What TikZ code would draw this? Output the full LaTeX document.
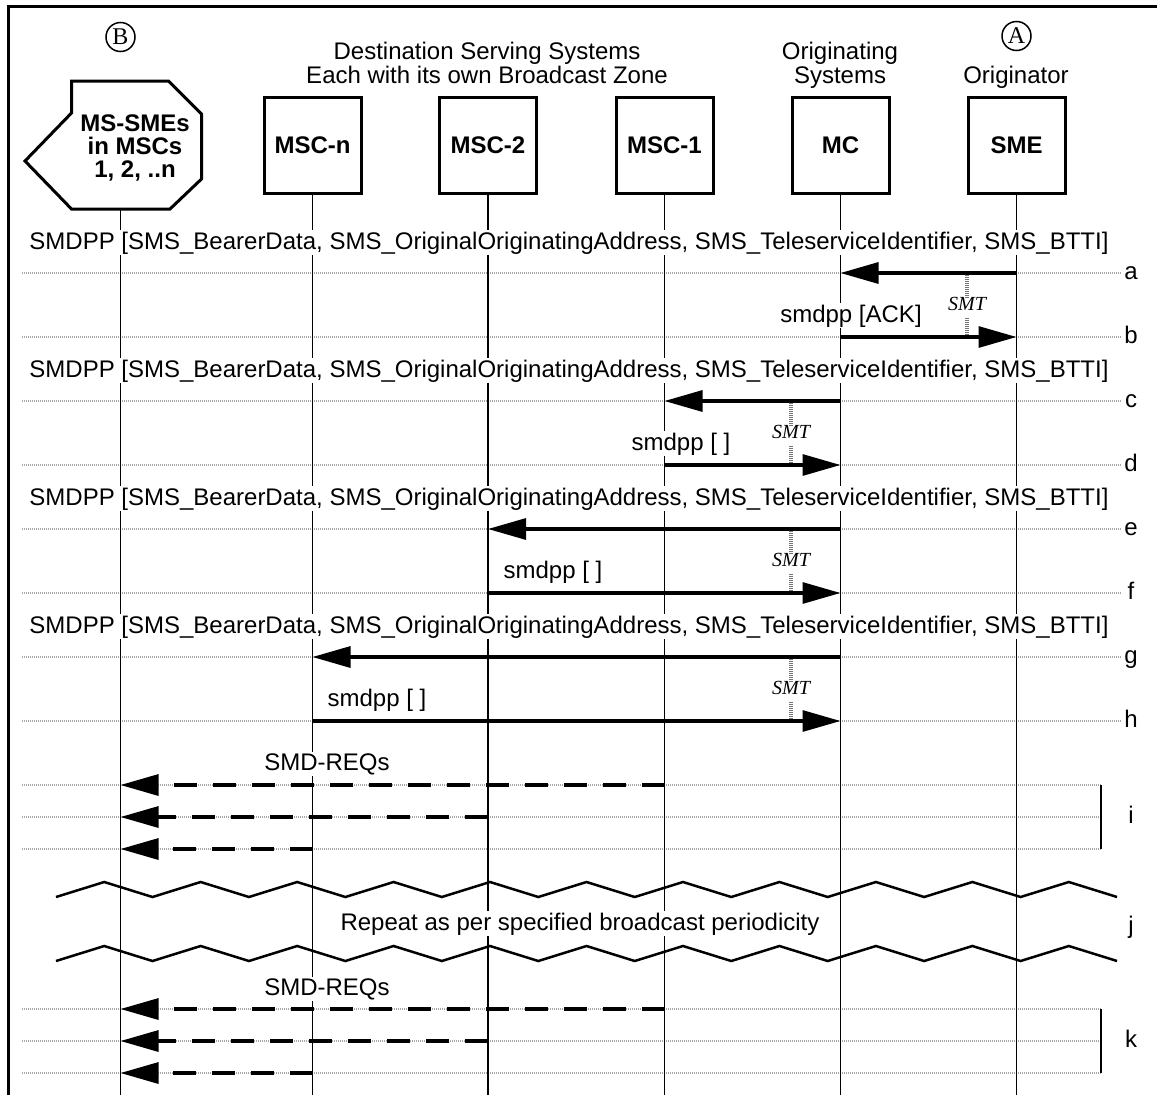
\documentclass[tikz,border=0pt]{standalone}
\usepackage{fontspec}
\setmainfont{Liberation Sans}
\newfontfamily\tms{Liberation Serif}
\usetikzlibrary{arrows.meta}
\begin{document}
\begin{tikzpicture}[x=1pt,y=-1pt,
  txt/.style={font=\fontsize{24}{27}\selectfont, fill=white, inner sep=1.5pt, anchor=base},
  hdr/.style={font=\fontsize{24}{27}\selectfont, inner sep=0pt, anchor=base},
  entity/.style={draw, line width=3pt, minimum width=97pt, minimum height=96pt, inner sep=0pt, fill=white, font=\fontsize{24}{27}\selectfont\bfseries},
  life/.style={line width=1.2pt},
  dotrow/.style={draw=black!35, line width=1.1pt, dash pattern=on 1pt off 1pt},
  msg/.style={line width=3.1pt, -{Triangle[length=38pt,width=21pt]}},
  dmsg/.style={msg, dash pattern=on 23pt off 16pt},
  smtlbl/.style={font=\tms\itshape\fontsize{20}{22}\selectfont, inner sep=0pt, anchor=base},
  smtline/.style={draw=black!55, line width=3.5pt, dash pattern=on 1pt off 1pt},
  rowlbl/.style={font=\fontsize{24}{27}\selectfont, inner sep=0pt, anchor=base},
  zig/.style={line width=2.5pt, line join=miter},
  circ/.style={draw, circle, line width=1.5pt, minimum size=29pt, inner sep=0pt, font=\tms\fontsize{24}{26}\selectfont},
  brace/.style={line width=2pt},
]
\useasboundingbox (0,0) rectangle (1157,1095);

% frame
\draw[line width=3pt] (8,1095) -- (8,6.5) -- (1157,6.5);

% row coordinates
\coordinate (ra) at (0,273);
\coordinate (rb) at (0,337);
\coordinate (rc) at (0,401);
\coordinate (rd) at (0,465);
\coordinate (re) at (0,529);
\coordinate (rf) at (0,593);
\coordinate (rg) at (0,657);
\coordinate (rh) at (0,721);
\coordinate (ri1) at (0,785);
\coordinate (ri2) at (0,817);
\coordinate (ri3) at (0,849);
\coordinate (rk1) at (0,1009);
\coordinate (rk2) at (0,1041);
\coordinate (rk3) at (0,1073);
\coordinate (bot) at (0,1095);
\coordinate (lft) at (22,0);
\coordinate (rgt) at (1121,0);
\coordinate (brk) at (1101,0);
\coordinate (s1) at (967,0);
\coordinate (s2) at (791,0);

% dotted rows
\foreach \r in {ra,rb,rc,rd,re,rf,rg,rh}
  \draw[dotrow] (lft |- \r) -- (rgt |- \r);
\foreach \r in {ri1,ri2,ri3,rk1,rk2,rk3}
  \draw[dotrow] (lft |- \r) -- (brk |- \r);

% header
\node[circ] (cB) at (120.5,37) {B};
\node[circ] (cA) at (1016.5,36) {A};
\node[hdr] (dest1) at (487,59) {Destination Serving Systems};
\node[hdr] (dest2) at (487,83) {Each with its own Broadcast Zone};
\node[hdr] (orig1) at (840,59) {Originating};
\node[hdr] (orig2) at (840,83) {Systems};
\node[hdr] (origr) at (1016,83) {Originator};

% entities
\draw[line width=3pt, line join=miter] (71.5,81) -- (168.5,81) -- (201.5,114) -- (201.5,179) -- (170,209) -- (71.5,209) -- (25,161) -- (71.5,113) -- cycle;
\node[align=center, inner sep=0pt, font=\fontsize{24}{23}\selectfont\bfseries] (mstext) at (135,148) {MS-SMEs\\in MSCs\\1, 2, ..n};
\coordinate (ms) at (120.5,209);
\node[entity] (mscn) at (312.5,145) {MSC-n};
\node[entity] (msc2) at (488,145) {MSC-2};
\node[entity] (msc1) at (664.5,145) {MSC-1};
\node[entity] (mc) at (840.5,145) {MC};
\node[entity] (sme) at (1016.5,145) {SME};

% lifelines
\draw[life] (ms) -- (ms |- bot);
\foreach \n in {mscn,msc2,msc1,mc,sme}
  \draw[life] (\n.south) -- (\n.south |- bot);

% message texts
\node[txt] (ta) at (569,249) {SMDPP [SMS\_BearerData, SMS\_OriginalOriginatingAddress, SMS\_TeleserviceIdentifier, SMS\_BTTI]};
\node[txt] (tc) at (569,377) {SMDPP [SMS\_BearerData, SMS\_OriginalOriginatingAddress, SMS\_TeleserviceIdentifier, SMS\_BTTI]};
\node[txt] (te) at (569,505) {SMDPP [SMS\_BearerData, SMS\_OriginalOriginatingAddress, SMS\_TeleserviceIdentifier, SMS\_BTTI]};
\node[txt] (tg) at (569,633) {SMDPP [SMS\_BearerData, SMS\_OriginalOriginatingAddress, SMS\_TeleserviceIdentifier, SMS\_BTTI]};
\node[txt] (tb) at (851,322) {smdpp [ACK]};
\node[txt] (td) at (681,450) {smdpp [ ]};
\node[txt] (tf) at (553,578) {smdpp [ ]};
\node[txt] (th) at (377,706) {smdpp [ ]};
\node[txt] (ti) at (327,770) {SMD-REQs};
\node[txt] (tk) at (327,995) {SMD-REQs};
\node[txt] (tj) at (580,930) {Repeat as per specified broadcast periodicity};

% SMT markers
\node[smtlbl] (smtab) at (967,310) {SMT};
\draw[smtline] (s1 |- ra) -- ([yshift=-2pt]smtab.north);
\draw[smtline] ([yshift=-8pt]smtab.south) -- (s1 |- rb);
\node[smtlbl] (smtcd) at (791,438) {SMT};
\draw[smtline] (s2 |- rc) -- ([yshift=-2pt]smtcd.north);
\draw[smtline] ([yshift=-8pt]smtcd.south) -- (s2 |- rd);
\node[smtlbl] (smtef) at (791,566) {SMT};
\draw[smtline] (s2 |- re) -- ([yshift=-2pt]smtef.north);
\draw[smtline] ([yshift=-8pt]smtef.south) -- (s2 |- rf);
\node[smtlbl] (smtgh) at (791,694) {SMT};
\draw[smtline] (s2 |- rg) -- ([yshift=-2pt]smtgh.north);
\draw[smtline] ([yshift=-8pt]smtgh.south) -- (s2 |- rh);

% messages
\draw[msg] (sme |- ra) -- (mc |- ra);
\draw[msg] (mc |- rb) -- (sme |- rb);
\draw[msg] (mc |- rc) -- (msc1 |- rc);
\draw[msg] (msc1 |- rd) -- (mc |- rd);
\draw[msg] (mc |- re) -- (msc2 |- re);
\draw[msg] (msc2 |- rf) -- (mc |- rf);
\draw[msg] (mc |- rg) -- (mscn |- rg);
\draw[msg] (mscn |- rh) -- (mc |- rh);
\draw[dmsg] (msc1 |- ri1) -- (ms |- ri1);
\draw[dmsg] (msc2 |- ri2) -- (ms |- ri2);
\draw[dmsg] (mscn |- ri3) -- (ms |- ri3);
\draw[dmsg] (msc1 |- rk1) -- (ms |- rk1);
\draw[dmsg] (msc2 |- rk2) -- (ms |- rk2);
\draw[dmsg] (mscn |- rk3) -- (ms |- rk3);

% brackets
\draw[brace] (brk |- ri1) -- (brk |- ri3);
\draw[brace] (brk |- rk1) -- (brk |- rk3);

% zigzags
\draw[zig] (56,897) \foreach \i in {1,...,11} { -- ++(48.23,-15) -- ++(48.23,15) };
\draw[zig] (56,961) \foreach \i in {1,...,11} { -- ++(48.23,-15) -- ++(48.23,15) };

% row labels
\node[rowlbl] (la) at (1131,279) {a};
\node[rowlbl] (lb) at (1131,343) {b};
\node[rowlbl] (lc) at (1131,407) {c};
\node[rowlbl] (ld) at (1131,471) {d};
\node[rowlbl] (le) at (1131,535) {e};
\node[rowlbl] (lf) at (1131,599) {f};
\node[rowlbl] (lg) at (1131,663) {g};
\node[rowlbl] (lh) at (1131,727) {h};
\node[rowlbl] (li) at (1131,823) {i};
\node[rowlbl] (lj) at (1131,933) {j};
\node[rowlbl] (lk) at (1131,1047) {k};
\end{tikzpicture}
\end{document}
